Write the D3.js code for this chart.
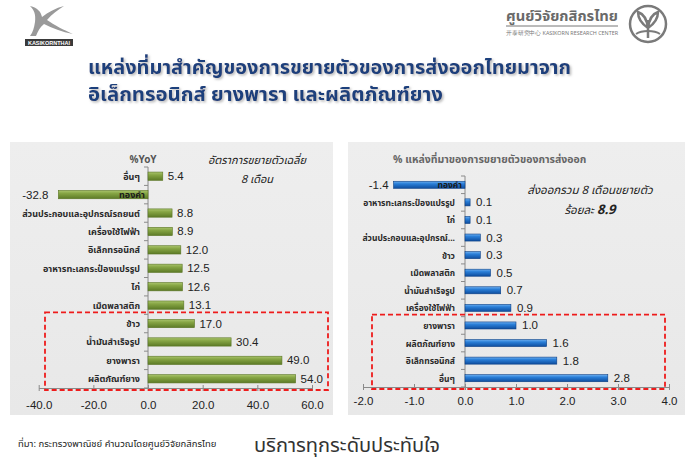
<!DOCTYPE html>
<html><head><meta charset="utf-8">
<script src="https://cdn.jsdelivr.net/npm/d3@7"></script>
<style>
body{margin:0;background:#fff;}
svg{display:block;}
text{font-family:"Noto Sans Thai","Noto Sans","Liberation Sans",sans-serif;}
.num{font-family:"Liberation Sans",Arial,sans-serif;}
</style></head>
<body>
<svg id="c" width="700" height="465"></svg>
<script>
// ---------- data ----------
const leftCategories = ["อื่นๆ","ทองคำ","ส่วนประกอบและอุปกรณ์รถยนต์","เครื่องใช้ไฟฟ้า","อิเล็กทรอนิกส์","อาหารทะเลกระป๋องแปรรูป","ไก่","เม็ดพลาสติก","ข้าว","น้ำมันสำเร็จรูป","ยางพารา","ผลิตภัณฑ์ยาง"];
const leftValues = [5.4,-32.8,8.8,8.9,12.0,12.5,12.6,13.1,17.0,30.4,49.0,54.0];
const leftTicks = [-40,-20,0,20,40,60];

const rightCategories = ["ทองคำ","อาหารทะเลกระป๋องแปรรูป","ไก่","ส่วนประกอบและอุปกรณ์...","ข้าว","เม็ดพลาสติก","น้ำมันสำเร็จรูป","เครื่องใช้ไฟฟ้า","ยางพารา","ผลิตภัณฑ์ยาง","อิเล็กทรอนิกส์","อื่นๆ"];
const rightValues = [-1.4,0.1,0.1,0.3,0.3,0.5,0.7,0.9,1.0,1.6,1.8,2.8];
const rightTicks = [-2,-1,0,1,2,3,4];

const titleLines = ["แหล่งที่มาสำคัญของการขยายตัวของการส่งออกไทยมาจาก","อิเล็กทรอนิกส์ ยางพารา และผลิตภัณฑ์ยาง"];

const fmt = v => d3.format(".1f")(v).replace("\u2212","-");

const svg = d3.select("#c");
const defs = svg.append("defs");

function grad(id, stops){
  const g = defs.append("linearGradient").attr("id",id).attr("x1",0).attr("y1",0).attr("x2",0).attr("y2",1);
  stops.forEach(s=>g.append("stop").attr("offset",s[0]).attr("stop-color",s[1]));
}
grad("gGreen",[[0,"#a9c46c"],[0.35,"#86a544"],[1,"#5c7a26"]]);
grad("gBlue",[[0,"#6fb0f0"],[0.35,"#2a7fd8"],[1,"#0e4d9e"]]);
grad("gPanel",[[0,"#eeeeee"],[1,"#e8e8e8"]]);
const sh = defs.append("filter").attr("id","tshadow").attr("x","-5%").attr("y","-20%").attr("width","110%").attr("height","150%");
sh.append("feDropShadow").attr("dx",1.5).attr("dy",1.5).attr("stdDeviation",0.8).attr("flood-color","#999").attr("flood-opacity",0.7);

// ---------- header ----------
const lg = svg.append("g");
lg.append("path").attr("d","M30,6 C34,10 36,14 35,22 C34,28 33,32 30,36 L36,36 C38,31 40,27 44,24 C52,28 62,32 73,34 C64,30 54,25 47,20 C52,14 58,10 64,6 C56,8 48,12 42,17 C41,12 38,8 30,6 Z").attr("fill","#9a9a9a");
lg.append("rect").attr("x",25).attr("y",39).attr("width",48).attr("height",7).attr("fill","#3a3a3a");
lg.append("text").attr("x",49).attr("y",45).attr("text-anchor","middle").attr("font-size",5.5).attr("font-weight","bold").attr("fill","#fff").attr("class","num").text("KASIKORNTHAI");

const rg = svg.append("g");
rg.append("text").attr("x",506).attr("y",21).attr("font-size",14).attr("font-weight","bold").attr("fill","#6a6a6a").attr("textLength",112).attr("lengthAdjust","spacingAndGlyphs").text("ศูนย์วิจัยกสิกรไทย");
rg.append("line").attr("x1",506).attr("x2",618).attr("y1",26).attr("y2",26).attr("stroke","#777").attr("stroke-width",1);
rg.append("text").attr("x",506).attr("y",35).attr("font-size",5.5).attr("fill","#777").attr("textLength",112).attr("lengthAdjust","spacingAndGlyphs").text("开泰研究中心 KASIKORN RESEARCH CENTER");
rg.append("circle").attr("cx",648).attr("cy",24).attr("r",18).attr("fill","none").attr("stroke","#7a7a7a").attr("stroke-width",2.5);
rg.append("path").attr("d","M648,38 L648,20 M648,28 C642,24 638,18 638,12 C644,14 647,20 648,28 M648,28 C654,24 658,18 658,12 C652,14 649,20 648,28").attr("fill","none").attr("stroke","#7a7a7a").attr("stroke-width",2.5);
rg.append("path").attr("d","M636,34 C642,30 654,30 660,34").attr("fill","none").attr("stroke","#7a7a7a").attr("stroke-width",2);

// title
const tWidths = [483, 355];
titleLines.forEach((t,i)=>{
  svg.append("text").attr("x",88).attr("y",74+i*26.5).attr("font-size",19).attr("font-weight","bold")
    .attr("fill","#1f3f7c").attr("filter","url(#tshadow)")
    .attr("textLength",tWidths[i]).attr("lengthAdjust","spacingAndGlyphs").text(t);
});

// ---------- chart builder ----------
function barChart(opt){
  const g = svg.append("g");
  g.append("rect").attr("x",opt.panel[0]).attr("y",opt.panel[1]).attr("width",opt.panel[2]).attr("height",opt.panel[3]).attr("fill","url(#gPanel)");
  const x = d3.scaleLinear().domain(opt.domain).range(opt.xr);
  const y = d3.scaleBand().domain(opt.cats).range(opt.yr).paddingInner(opt.pad).paddingOuter(opt.pad/2);
  const yb = d3.scaleBand().domain(opt.cats).range(opt.yr);
  const xa = g.append("g").attr("transform",`translate(0,${opt.yr[1]})`)
    .call(d3.axisBottom(x).tickValues(opt.ticks).tickSize(4).tickSizeOuter(0).tickPadding(opt.tickPad).tickFormat(fmt));
  xa.select(".domain").attr("stroke","#8a8a8a");
  xa.selectAll(".tick line").attr("stroke","#8a8a8a").attr("y1",-3).attr("y2",3);
  xa.selectAll(".tick text").attr("class","num").attr("font-size",11.5).attr("fill","#222").attr("font-family","Liberation Sans, Arial, sans-serif");
  g.append("line").attr("x1",x(0)).attr("x2",x(0)).attr("y1",opt.yr[0]).attr("y2",opt.yr[1]).attr("stroke","#8a8a8a");
  g.selectAll(".yt").data(d3.range(opt.cats.length+1)).join("line")
    .attr("x1",x(0)-4).attr("x2",x(0)).attr("y1",i=>opt.yr[0]+i*yb.step()).attr("y2",i=>opt.yr[0]+i*yb.step()).attr("stroke","#8a8a8a");
  const data = opt.cats.map((c,i)=>({c,v:opt.vals[i]}));
  g.selectAll(".bar").data(data).join("rect")
    .attr("x",d=>x(Math.min(0,d.v))).attr("width",d=>Math.abs(x(d.v)-x(0)))
    .attr("y",d=>y(d.c)).attr("height",y.bandwidth())
    .attr("fill",opt.fill).attr("stroke",opt.stroke).attr("stroke-width",0.6);
  g.selectAll(".cl").data(data).join("text")
    .attr("x",d=>d.v<0 ? x(0)-3 : x(0)-opt.labOff).attr("y",d=>y(d.c)+y.bandwidth()/2+3.5)
    .attr("text-anchor","end").attr("font-size",opt.catSize).attr("font-weight","bold").attr("fill",d=>d.v<0?"#1a1a1a":"#2a2a2a").text(d=>d.c);
  g.selectAll(".vl").data(data).join("text").attr("class","num")
    .attr("x",d=>d.v<0 ? x(d.v)-opt.negOff : x(d.v)+opt.posOff).attr("y",d=>y(d.c)+y.bandwidth()/2+4)
    .attr("text-anchor",d=>d.v<0?"end":"start").attr("font-size",11.5).attr("fill","#222")
    .attr("font-family","Liberation Sans, Arial, sans-serif")
    .text(d=>fmt(d.v));
  const top = y(opt.cats[opt.hiFrom]) - y.step()*y.paddingInner()/2 - 2;
  g.append("rect").attr("x",opt.hiX[0]).attr("y",top).attr("width",opt.hiX[1]-opt.hiX[0]).attr("height",opt.yr[1]+2-top)
    .attr("fill","none").attr("stroke","#ee1c1c").attr("stroke-width",1.8).attr("stroke-dasharray","5,3");
  return {g,x,y};
}

const L = barChart({panel:[10,142,323,273],domain:[-40,60],xr:[38.7,312],yr:[167,388],cats:leftCategories,vals:leftValues,ticks:leftTicks,pad:0.55,
  fill:"url(#gGreen)",stroke:"#5a7524",labOff:8,catSize:9,posOff:5,negOff:10,hiFrom:8,hiX:[45,328],tickPad:9});
L.g.append("text").attr("x",143).attr("y",163).attr("text-anchor","middle").attr("font-size",10).attr("font-weight","bold").attr("fill","#555").text("%YoY");
L.g.append("text").attr("x",257).attr("y",164).attr("text-anchor","middle").attr("font-size",11).attr("font-style","italic").attr("fill","#222").text("อัตราการขยายตัวเฉลี่ย");
L.g.append("text").attr("x",257).attr("y",183).attr("text-anchor","middle").attr("font-size",11).attr("font-style","italic").attr("fill","#222").text("8 เดือน");

const R = barChart({panel:[348,142,337,273],domain:[-2,4],xr:[363,669],yr:[176,387],cats:rightCategories,vals:rightValues,ticks:rightTicks,pad:0.6,
  fill:"url(#gBlue)",stroke:"#0b3f85",labOff:10,catSize:8.5,posOff:6,negOff:5,hiFrom:8,hiX:[372,665],tickPad:6});
R.g.append("text").attr("x",393).attr("y",163).attr("font-size",10.5).attr("font-weight","bold").attr("fill","#666").text("% แหล่งที่มาของการขยายตัวของการส่งออก");
R.g.append("text").attr("x",590).attr("y",194).attr("text-anchor","middle").attr("font-size",11.5).attr("font-style","italic").attr("fill","#222").text("ส่งออกรวม 8 เดือนขยายตัว");
const t2 = R.g.append("text").attr("x",590).attr("y",214).attr("text-anchor","middle").attr("font-size",11.5).attr("font-style","italic").attr("fill","#222");
t2.append("tspan").text("ร้อยละ ");
t2.append("tspan").attr("font-weight","bold").attr("font-size",13).text("8.9");

// ---------- footer ----------
svg.append("text").attr("x",18).attr("y",447).attr("font-size",9.5).attr("fill","#222").text("ที่มา: กระทรวงพาณิชย์ คำนวณโดยศูนย์วิจัยกสิกรไทย");
svg.append("text").attr("x",254).attr("y",452).attr("font-size",19).attr("fill","#333").attr("textLength",186).attr("lengthAdjust","spacingAndGlyphs").text("บริการทุกระดับประทับใจ");
</script>
</body></html>
